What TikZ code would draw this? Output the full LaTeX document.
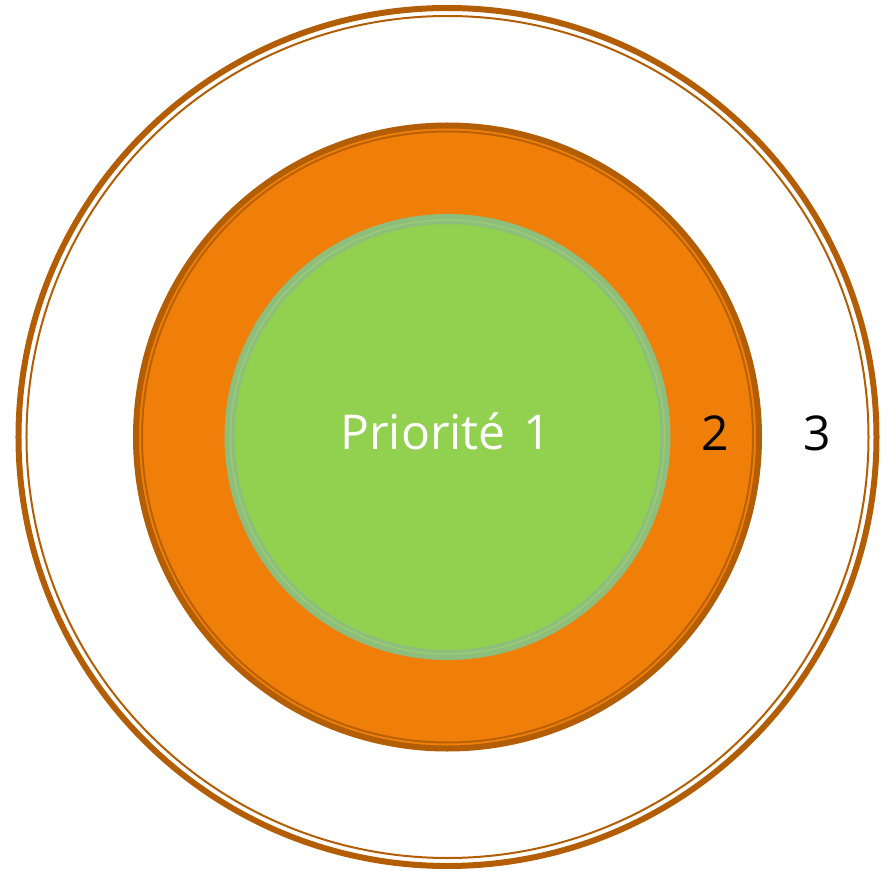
\documentclass[tikz,border=0pt]{standalone}
\usepackage{fontspec}
\setmainfont{Open Sans}
\usepackage{tikz}
\usetikzlibrary{shapes,positioning,calc}
\definecolor{marrone}{HTML}{B35E05}
\definecolor{arancio}{HTML}{F07F09}
\definecolor{verde}{HTML}{92D050}
\definecolor{grigioverde}{HTML}{8EBE7C}
\definecolor{verdechiaro}{HTML}{9BCB74}
\tikzstyle{cerchio} = [circle, inner sep=0pt, outer sep=0pt]
\tikzstyle{etichetta} = [inner sep=0pt, anchor=base, font=\fontsize{48}{50}\selectfont]

\begin{document}
\begin{tikzpicture}[x=1pt,y=1pt]
						\useasboundingbox (-447.5,-433) rectangle (440.5,437);
						% livello 3
						\node (c3) at (0,0) [cerchio, minimum size=858pt, draw=marrone, line width=6pt] {};
						\node (c3i) at (0,0) [cerchio, minimum size=842pt, draw=marrone, line width=2pt] {};
						% livello 2
						\node (c2) at (0,0) [cerchio, minimum size=623pt, draw=marrone, fill=arancio, line width=6pt] {};
						\node (c2i) at (0,0) [cerchio, minimum size=611pt, draw=marrone!90!arancio, line width=2pt] {};
						% livello 1
						\node (c1) at (0,0) [cerchio, minimum size=436pt, draw=grigioverde, fill=verde, line width=10pt] {};
						\node (c1i) at (0,0) [cerchio, minimum size=434pt, draw=verdechiaro, line width=1.5pt] {};
						\node (p1) at (-2,-12) [etichetta, text=white] {Priorité\kern5pt~1};
						\node (p2) at (267.5,-13) [etichetta] {2};
						\node (p3) at (369.5,-13) [etichetta] {3};
					\end{tikzpicture}
\end{document}
